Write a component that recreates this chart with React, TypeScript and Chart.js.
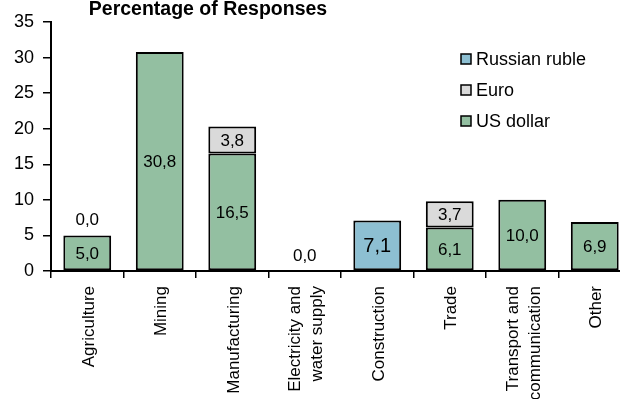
import React, { useEffect, useRef } from 'react';
import { Chart, registerables } from 'chart.js';

Chart.register(...registerables);

const chartTitle = 'Percentage of Responses';
const categories: (string | string[])[] = [
  'Agriculture',
  'Mining',
  'Manufacturing',
  ['Electricity and', 'water supply'],
  'Construction',
  'Trade',
  ['Transport and', 'communication'],
  'Other',
];
const usDollar = [5.0, 30.8, 16.5, null, null, 6.1, 10.0, 6.9];
const euro = [0.0, null, 3.8, 0.0, null, 3.7, null, null];
const russianRuble = [null, null, null, null, 7.1, null, null, null];
const yMin = 0;
const yMax = 35;
const yStep = 5;

const FONT = '"Liberation Sans", Arial, Helvetica, sans-serif';
const GREEN = '#93BFA1';
const GREY = '#DADADA';
const BLUE = '#8DBFD2';
const X_FONT_SIZE = 17;
const X_LINE_HEIGHT = 1.3;

const fmt = (v: number) => v.toFixed(1).replace('.', ',');

// Single-line labels get an empty leading line so every label block is centred on its tick
const axisLabels = categories.map((c) => (Array.isArray(c) ? c : ['', c]));

const overlayPlugin = {
  id: 'overlay',
  afterDatasetsDraw(chart: any) {
    const ctx = chart.ctx;
    const yScale = chart.scales.y;
    ctx.save();
    ctx.fillStyle = '#000';
    ctx.textAlign = 'center';
    ctx.textBaseline = 'middle';
    chart.data.datasets.forEach((ds: any, di: number) => {
      const meta = chart.getDatasetMeta(di);
      ds.data.forEach((v: number | null, i: number) => {
        if (v === null || v === undefined) return;
        const el = meta.data[i];
        if (!el) return;
        const isRuble = ds.label === 'Russian ruble';
        ctx.font = `${isRuble ? 20 : 17}px ${FONT}`;
        if (v === 0) {
          let total = 0;
          chart.data.datasets.forEach((d: any) => {
            const val = d.data[i];
            if (typeof val === 'number') total += val;
          });
          const top = yScale.getPixelForValue(total);
          ctx.fillText(fmt(v), el.x, top - 15);
        } else {
          ctx.fillText(fmt(v), el.x, (el.y + el.base) / 2 + 1);
        }
      });
    });
    ctx.restore();
  },
  afterDraw(chart: any) {
    const ctx = chart.ctx;
    ctx.save();
    // title
    ctx.fillStyle = '#000';
    ctx.font = `bold 19.5px ${FONT}`;
    ctx.textAlign = 'center';
    ctx.textBaseline = 'alphabetic';
    ctx.fillText(chartTitle, 208, 15);
    // legend (reversed order)
    const items = chart.data.datasets.slice().reverse();
    const ys = [59, 90, 121];
    ctx.font = `18px ${FONT}`;
    ctx.textAlign = 'left';
    ctx.textBaseline = 'middle';
    items.forEach((ds: any, k: number) => {
      const y = ys[k];
      ctx.fillStyle = ds.backgroundColor;
      ctx.fillRect(461, y - 5, 10, 10);
      ctx.strokeStyle = '#000';
      ctx.lineWidth = 1.5;
      ctx.strokeRect(461, y - 5, 10, 10);
      ctx.fillStyle = '#000';
      ctx.fillText(ds.label, 476, y + 1);
    });
    ctx.restore();
  },
};

export default function App() {
  const ref = useRef<HTMLCanvasElement | null>(null);
  useEffect(() => {
    if (!ref.current) return;
    const common = {
      borderColor: '#000',
      borderWidth: 2,
      borderSkipped: false,
      barPercentage: 0.66,
      categoryPercentage: 1,
      stack: 's',
    };
    const lh = X_FONT_SIZE * X_LINE_HEIGHT;
    const chart = new Chart(ref.current, {
      type: 'bar',
      data: {
        labels: axisLabels as any,
        datasets: [
          { label: 'US dollar', data: usDollar, backgroundColor: GREEN, ...common } as any,
          { label: 'Euro', data: euro, backgroundColor: GREY, ...common } as any,
          { label: 'Russian ruble', data: russianRuble, backgroundColor: BLUE, ...common } as any,
        ],
      },
      options: {
        animation: false,
        responsive: false,
        devicePixelRatio: 1,
        layout: { padding: { top: 22, right: 0, bottom: 0, left: 0 } },
        plugins: {
          legend: { display: false },
          title: { display: false },
          tooltip: { enabled: false },
        },
        scales: {
          x: {
            stacked: true,
            offset: true,
            afterFit: (s: any) => { s.height = 128; },
            grid: {
              display: true,
              drawOnChartArea: false,
              drawTicks: true,
              tickLength: 7,
              color: '#000',
              lineWidth: 1.5,
              offset: true,
            },
            border: { display: true, color: '#000', width: 2 },
            ticks: {
              autoSkip: false,
              minRotation: 90,
              maxRotation: 90,
              padding: 8,
              labelOffset: -lh / 2 + 2,
              color: '#000',
              font: (c: any) => {
                const idx = c.index ?? 0;
                const orig = categories[idx];
                return {
                  family: FONT,
                  size: X_FONT_SIZE,
                  lineHeight: Array.isArray(orig) ? X_LINE_HEIGHT : X_LINE_HEIGHT / 2,
                };
              },
            },
          },
          y: {
            stacked: true,
            min: yMin,
            max: yMax,
            afterFit: (s: any) => { s.width = 51; },
            grid: {
              display: true,
              drawOnChartArea: false,
              drawTicks: true,
              tickLength: 8,
              color: '#000',
              lineWidth: 1.5,
            },
            border: { display: true, color: '#000', width: 2 },
            ticks: {
              stepSize: yStep,
              padding: 9,
              color: '#000',
              font: { family: FONT, size: 18 },
            },
          },
        },
      } as any,
      plugins: [overlayPlugin],
    });
    return () => chart.destroy();
  }, []);
  return (
    <div style={{ position: 'absolute', left: 0, top: 0, width: 620, height: 399, overflow: 'hidden', background: '#fff' }}>
      <canvas ref={ref} width={631} height={399} style={{ display: 'block', width: 631, height: 399 }} />
    </div>
  );
}
